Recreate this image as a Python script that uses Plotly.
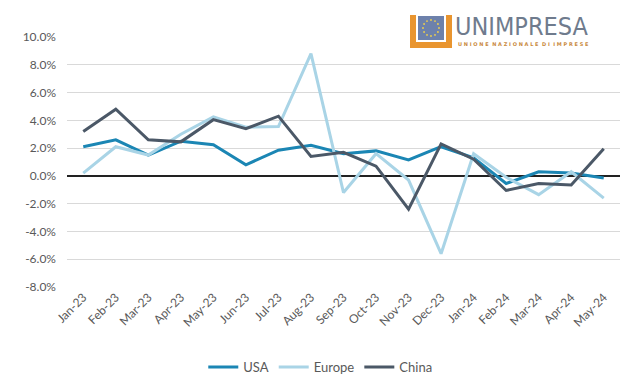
import math
import plotly.graph_objects as go

months = ["Jan-23", "Feb-23", "Mar-23", "Apr-23", "May-23", "Jun-23", "Jul-23", "Aug-23",
          "Sep-23", "Oct-23", "Nov-23", "Dec-23", "Jan-24", "Feb-24", "Mar-24", "Apr-24", "May-24"]
usa = [2.1, 2.6, 1.5, 2.5, 2.25, 0.8, 1.85, 2.2, 1.6, 1.8, 1.15, 2.1, 1.3, -0.55, 0.3, 0.2, -0.15]
europe = [0.2, 2.1, 1.5, 3.0, 4.25, 3.5, 3.55, 8.8, -1.2, 1.6, -0.3, -5.6, 1.6, -0.1, -1.35, 0.3, -1.6]
china = [3.2, 4.8, 2.6, 2.45, 4.05, 3.4, 4.3, 1.4, 1.7, 0.7, -2.4, 2.3, 1.2, -1.05, -0.55, -0.65, 1.95]
y_ticks = [10, 8, 6, 4, 2, 0, -2, -4, -6, -8]

C_USA = "#1b86b4"
C_EU = "#a9d4e6"
C_CN = "#4b5867"

fig = go.Figure()
for name, vals, col in [("USA", usa, C_USA), ("Europe", europe, C_EU), ("China", china, C_CN)]:
    fig.add_trace(go.Scatter(x=months, y=vals, name=name, mode="lines",
                             line=dict(color=col, width=3)))

fig.update_layout(
    width=640, height=390,
    margin=dict(l=67, r=20, t=37, b=103, autoexpand=False),
    paper_bgcolor="white", plot_bgcolor="white",
    font=dict(family="Lato, Open Sans, sans-serif", color="#595959", size=12),
    showlegend=True,
    legend=dict(orientation="h", x=0.458, xanchor="center", yref="container", y=0.059,
                yanchor="middle",
                font=dict(size=13, color="#595959"), itemwidth=30, traceorder="normal",
                tracegroupgap=0),
    xaxis=dict(type="category", range=[-0.5, 16.5], tickangle=-45, showgrid=False, showline=False,
               ticks="", automargin=False, tickfont=dict(size=12, color="#595959")),
    yaxis=dict(range=[-8, 10], tickvals=y_ticks, automargin=False,
               ticktext=[f"{v:.1f}%" for v in y_ticks],
               showgrid=True, gridcolor="#d9d9d9", gridwidth=1,
               zeroline=True, zerolinecolor="#222222", zerolinewidth=1.5,
               ticks="", ticklabelstandoff=10, tickfont=dict(size=12, color="#595959")),
)

# Logo (decorative)
def px(x):
    return (x - 67) / 553
def py(y):
    return (287 - y) / 250

shapes = [
    dict(type="rect", xref="paper", yref="paper", x0=px(403), x1=px(620), y0=py(52), y1=py(8),
         fillcolor="white", line=dict(width=0), layer="above"),
    dict(type="rect", xref="paper", yref="paper", x0=px(410), x1=px(452), y0=py(48), y1=py(15),
         fillcolor="#e9952f", line=dict(width=0), layer="above"),
    dict(type="rect", xref="paper", yref="paper", x0=px(416), x1=px(446), y0=py(42), y1=py(15),
         fillcolor="white", line=dict(width=0), layer="above"),
    dict(type="rect", xref="paper", yref="paper", x0=px(418), x1=px(444), y0=py(40), y1=py(16),
         fillcolor="#6d81ab", line=dict(width=0), layer="above"),
]
for k in range(12):
    a = 2 * math.pi * k / 12
    cx, cy = 431 + 8 * math.cos(a), 28 + 8 * math.sin(a)
    shapes.append(dict(type="circle", xref="paper", yref="paper",
                       x0=px(cx - 0.9), x1=px(cx + 0.9), y0=py(cy + 0.9), y1=py(cy - 0.9),
                       fillcolor="#f2d24a", line=dict(width=0), layer="above"))
fig.update_layout(shapes=shapes)

fig.add_annotation(xref="paper", yref="paper", x=px(453), y=py(27), xanchor="left", yanchor="middle",
                   text="UNIMPRESA", showarrow=False,
                   font=dict(family="DejaVu Sans Condensed, Liberation Sans Narrow, sans-serif",
                             size=25, color="#6f7b8d"))
fig.add_annotation(xref="paper", yref="paper", x=px(456), y=py(44), xanchor="left", yanchor="middle",
                   text="<b>U N I O N E  N A Z I O N A L E  D I  I M P R E S E</b>", showarrow=False,
                   font=dict(family="DejaVu Sans, sans-serif", size=5, color="#c98a3e"))

fig.write_html("out.html", config={"displayModeBar": False},
               post_script="document.body.style.margin='0';document.body.style.overflow='hidden';")
